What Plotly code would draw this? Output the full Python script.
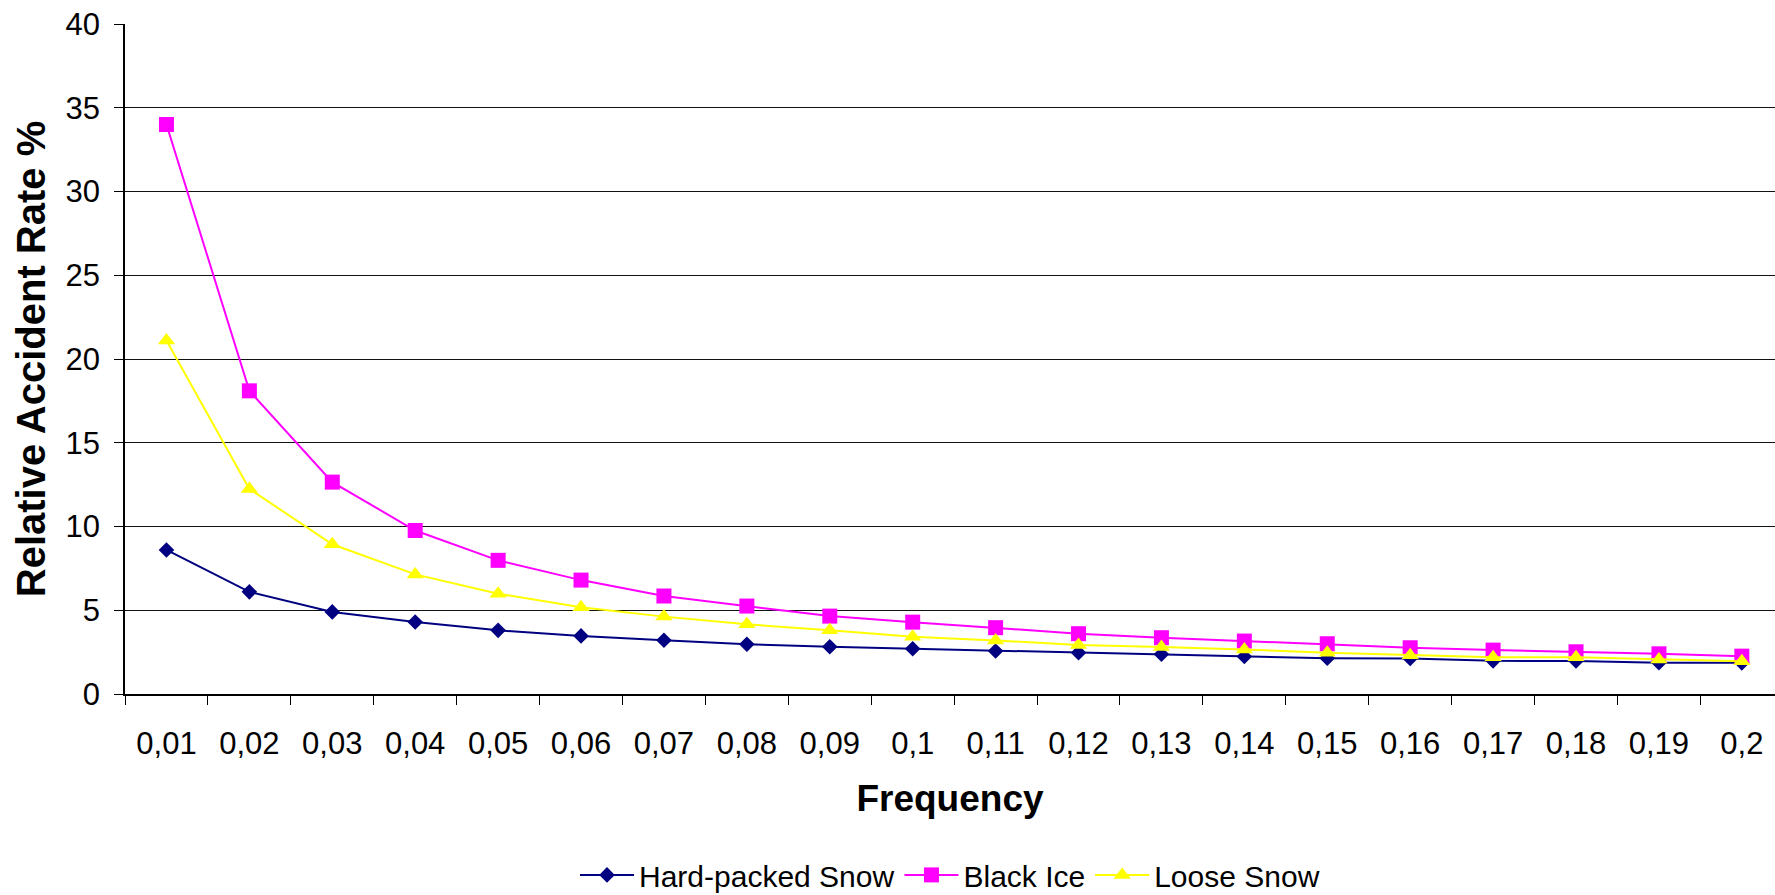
import plotly.graph_objects as go

frequency = ["0,01", "0,02", "0,03", "0,04", "0,05", "0,06", "0,07", "0,08", "0,09", "0,1",
             "0,11", "0,12", "0,13", "0,14", "0,15", "0,16", "0,17", "0,18", "0,19", "0,2"]

hard_packed_snow = [8.6, 6.1, 4.9, 4.3, 3.8, 3.47, 3.21, 2.97, 2.82, 2.7,
                    2.57, 2.47, 2.37, 2.24, 2.13, 2.12, 1.98, 1.97, 1.87, 1.86]
black_ice = [34.0, 18.1, 12.65, 9.76, 7.98, 6.8, 5.85, 5.25, 4.65, 4.29,
             3.96, 3.6, 3.36, 3.16, 3.0, 2.76, 2.62, 2.52, 2.4, 2.26]
loose_snow = [21.1, 12.24, 8.94, 7.14, 5.99, 5.18, 4.62, 4.16, 3.8, 3.42,
              3.2, 2.92, 2.8, 2.66, 2.46, 2.32, 2.2, 2.2, 2.06, 1.96]

y_ticks = [0, 5, 10, 15, 20, 25, 30, 35, 40]

FONT = "Liberation Sans, Arial, sans-serif"

fig = go.Figure()
fig.add_trace(go.Scatter(
    x=frequency, y=hard_packed_snow, name="Hard-packed Snow", mode="lines+markers",
    line=dict(color="#000080", width=2),
    marker=dict(symbol="diamond", size=12, color="#000080")))
fig.add_trace(go.Scatter(
    x=frequency, y=black_ice, name="Black Ice", mode="lines+markers",
    line=dict(color="#FF00FF", width=2),
    marker=dict(symbol="square", size=15, color="#FF00FF")))
fig.add_trace(go.Scatter(
    x=frequency, y=loose_snow, name="Loose Snow", mode="lines+markers",
    line=dict(color="#FFFF00", width=2),
    marker=dict(symbol="triangle-up", size=15, color="#FFFF00")))

fig.update_layout(
    width=1775, height=895,
    margin=dict(l=125, r=0, t=24, b=201, autoexpand=False),
    paper_bgcolor="white", plot_bgcolor="white",
    font=dict(family=FONT, size=31, color="black"),
    showlegend=True,
    legend=dict(orientation="h", x=0.5, xanchor="center", y=-0.27, yanchor="middle",
                font=dict(family=FONT, size=30, color="black"),
                itemwidth=54, tracegroupgap=0, bgcolor="rgba(0,0,0,0)"),
    xaxis=dict(
        type="category", range=[-0.5, 19.4],
        showline=True, linecolor="black", linewidth=1.5,
        ticks="outside", ticklen=9, tickcolor="black", tickson="boundaries",
        showgrid=False, zeroline=False, ticklabelstandoff=21,
        tickfont=dict(family=FONT, size=31, color="black"),
        title=dict(text="<b>Frequency</b>", font=dict(family=FONT, size=37, color="black"),
                   standoff=25),
    ),
    yaxis=dict(
        range=[0, 40], tickvals=y_ticks, ticktext=[str(v) for v in y_ticks],
        showline=True, linecolor="black", linewidth=1.5,
        ticks="outside", ticklen=9, tickcolor="black", ticklabelstandoff=8,
        showgrid=True, gridcolor="#111111", gridwidth=1, zeroline=False,
        tickfont=dict(family=FONT, size=31, color="black"),
        title=dict(text="<b>Relative Accident Rate %</b>",
                   font=dict(family=FONT, size=40, color="black"), standoff=8),
    ),
)

fig.write_html("out.html", config={"displayModeBar": False},
               post_script="document.body.style.margin='0';document.body.style.overflow='hidden';")
